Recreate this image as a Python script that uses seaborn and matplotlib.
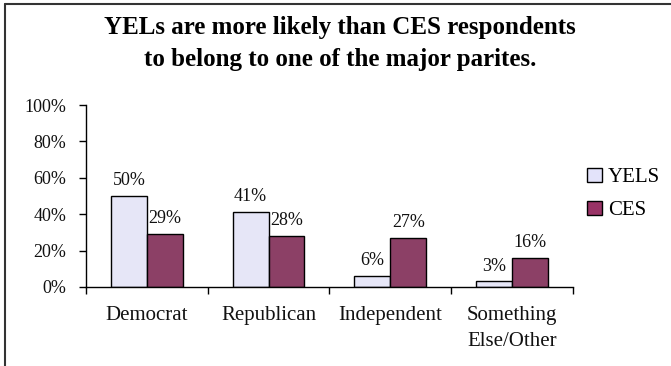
import numpy as np
import pandas as pd
import seaborn as sns
import matplotlib.pyplot as plt
from matplotlib.lines import Line2D
from matplotlib.patches import Patch

sns.set_theme(style="white")
plt.rcParams['font.family'] = ['Liberation Serif']
plt.rcParams['text.color'] = 'black'

categories = ['Democrat', 'Republican', 'Independent', 'Something\nElse/Other']
yels = [50, 41, 6, 3]
ces = [29, 28, 27, 16]
series = ['YELS', 'CES']
colors = ['#E3E3FA', '#993366']

df = pd.DataFrame({
    'Party': categories * 2,
    'Share': yels + ces,
    'Group': ['YELS'] * len(categories) + ['CES'] * len(categories),
})

fig = plt.figure(figsize=(6.71, 3.66), dpi=100)
ax = fig.add_axes([0.128, 0.216, 0.726, 0.497])

sns.barplot(data=df, x='Party', y='Share', hue='Group', hue_order=series,
            palette=colors, width=0.59, gap=0, edgecolor='black', linewidth=1.0,
            legend=False, ax=ax)

for cont in ax.containers:
    ax.bar_label(cont, labels=[f'{v:.0f}%' for v in cont.datavalues],
                 padding=5, fontsize=13, color='#111111')

ax.set_ylim(0, 100)
ax.set_xlim(-0.5, len(categories) - 0.5)
ax.set_yticks(range(0, 101, 20))
ax.set_yticklabels([f'{v}%' for v in range(0, 101, 20)], fontsize=13, color='#111111')
ax.set_xticks(range(len(categories)))
ax.set_xticklabels(categories, fontsize=15, color='#111111', linespacing=1.45)
ax.set_xticks(np.arange(-0.5, len(categories), 1), minor=True)
ax.tick_params(axis='x', which='major', length=0, pad=14)
ax.tick_params(axis='x', which='minor', length=5, width=1.0, color='black', direction='out', bottom=True)
ax.tick_params(axis='y', length=5, width=1.0, color='black', direction='out', left=True, pad=9)
ax.set_xlabel('')
ax.set_ylabel('')
for s in ['top', 'right']:
    ax.spines[s].set_visible(False)
for s in ['left', 'bottom']:
    ax.spines[s].set_color('black')
    ax.spines[s].set_linewidth(1.0)

handles = [Patch(facecolor=c, edgecolor='black', linewidth=1.0, label=l) for c, l in zip(colors, series)]
fig.legend(handles=handles, loc='center left', bbox_to_anchor=(0.847, 0.47),
           frameon=False, fontsize=15, handlelength=0.7, handleheight=0.7,
           handletextpad=0.3, labelspacing=0.65)

fig.text(0.507, 0.882, 'YELs are more likely than CES respondents\nto belong to one of the major parites.',
         ha='center', va='center', fontsize=18, fontweight='bold', linespacing=1.5, color='black')

# chart frame: only the left and top edges show in the reference
fig.add_artist(Line2D([0.008, 0.008], [0.0, 0.989], transform=fig.transFigure, color='#333333', linewidth=1.5))
fig.add_artist(Line2D([0.008, 1.0], [0.989, 0.989], transform=fig.transFigure, color='#333333', linewidth=1.5))

fig.savefig('out.png', dpi=100)
